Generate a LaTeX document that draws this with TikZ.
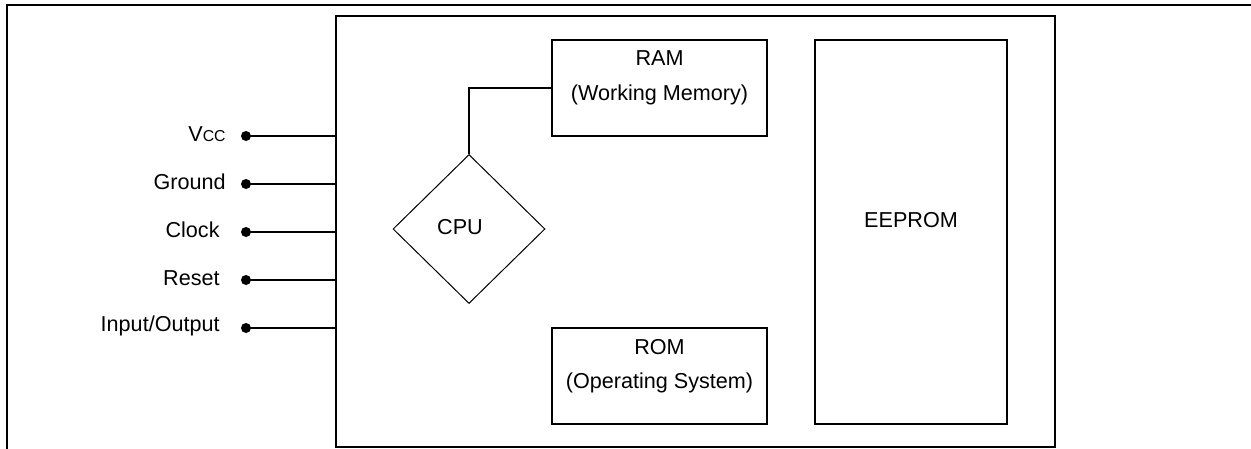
\documentclass[tikz,border=0pt]{standalone}
\usepackage{fontspec}
\setmainfont{Liberation Sans}
\usetikzlibrary{shapes.geometric}
\begin{document}
\begin{tikzpicture}[x=0.5pt,y=-0.5pt,
  every node/.style={font=\fontsize{10.8}{13}\selectfont, text=black},
  box/.style={draw, line width=1pt, inner sep=0pt},
  wire/.style={line width=1pt},
  pin/.style={circle, fill=black, inner sep=0pt, minimum size=5pt},
  lbl/.style={anchor=east, inner sep=0pt},
  txt/.style={inner sep=0pt}]
\useasboundingbox (0,0) rectangle (1251,449);
% outer frame
\draw[line width=1pt] (6.5,449) -- (6.5,5) -- (1251,5);
% chip
\node[box, minimum width=359.5pt, minimum height=215.5pt] (chip) at (695.5,231.5) {};
% memories
\node[box, minimum width=107.5pt, minimum height=48pt] (ram) at (659.5,88) {};
\node[txt] (ramt1) at (659.5,58) {RAM};
\node[txt] (ramt2) at (659.5,95) {(Working Memory)};
\node[box, minimum width=107.5pt, minimum height=48pt] (rom) at (659.5,376) {};
\node[txt] (romt1) at (659.5,347) {ROM};
\node[txt] (romt2) at (659.5,383) {(Operating System)};
\node[box, minimum width=96pt, minimum height=192pt] (eeprom) at (911,232) {};
\node[txt] (eepromt) at (911,220) {EEPROM};
% CPU
\node[draw, diamond, line width=0.5pt, inner sep=0pt, minimum width=76pt, minimum height=74.5pt] (cpu) at (469,229) {};
\node[txt] (cput) at (460,227) {CPU};
\draw[wire] (cpu.north) |- (ram.west);
% pins
\foreach \n/\y/\lx/\t in {vcc/136/226/{V{\fontsize{7.9}{10}\selectfont CC}},
                        gnd/184/226/Ground,
                        clk/232/220/Clock,
                        rst/280/220/Reset,
                        io/328/220/Input\slash Output}{
  \node[pin] (\n) at (246,\y) {};
  \node[lbl] (\n t) at (\lx,\y-2) {\t};
  \coordinate (\n e) at (336,\y);
  \draw[wire] (\n) -- (\n e);
}
\end{tikzpicture}
\end{document}
